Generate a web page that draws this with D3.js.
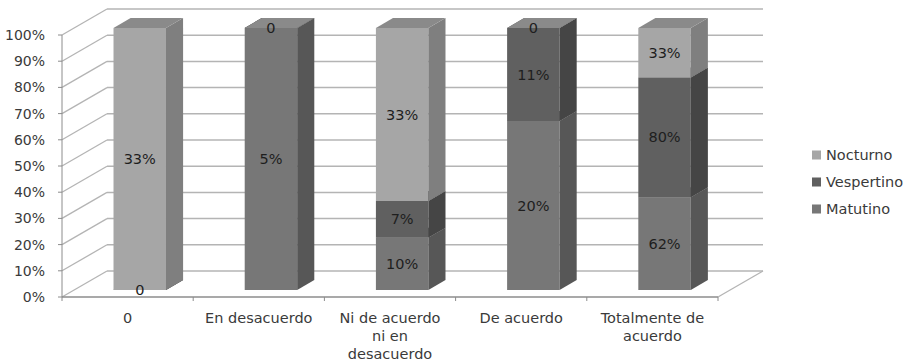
<!DOCTYPE html>
<html>
<head>
<meta charset="utf-8">
<script src="https://cdn.jsdelivr.net/npm/d3@7"></script>
<style>
  body { margin: 0; background: white; }
  text { font-family: "DejaVu Sans", sans-serif; }
</style>
</head>
<body>
<div id="canvas"></div>
<script>
"use strict"

// DATA
let categories = ["0", "En desacuerdo", "Ni de acuerdo ni en desacuerdo", "De acuerdo", "Totalmente de acuerdo"];
let categoryLines = [["0"], ["En desacuerdo"], ["Ni de acuerdo", "ni en", "desacuerdo"], ["De acuerdo"], ["Totalmente de", "acuerdo"]];
let seriesNames = ["Matutino", "Vespertino", "Nocturno"]; // bottom to top
let matutino = [0, 5, 10, 20, 62];
let vespertino = [null, null, 7, 11, 80];
let nocturno = [33, 0, 33, 0, 33];
let yTicks = [0, 0.1, 0.2, 0.3, 0.4, 0.5, 0.6, 0.7, 0.8, 0.9, 1];

/* Configuration variables: drawing */
let svgWidth = 911;
let svgHeight = 361;

let plotLeft = 62;
let plotRight = 718;
let plotBottom = 297;
let plotTop = 35;

let depthX = 45; // 3d offset of the back wall
let depthY = 26;
let barFront = 0.27; // depth position of bar faces
let barBack = 0.65;

let faceColors = {
  Matutino:   { front: "#777777", side: "#575757", top: "#6a6a6a" },
  Vespertino: { front: "#606060", side: "#454545", top: "#555555" },
  Nocturno:   { front: "#a6a6a6", side: "#7f7f7f", top: "#8a8a8a" }
};

let svg = d3.select("#canvas")
  .append("svg")
  .attr("width", svgWidth)
  .attr("height", svgHeight);

// project a front-plane point back by depth z (0..1)
function proj(x, y, z) {
  return [x + depthX * z, y - depthY * z];
}

function poly(points) {
  return "M" + points.map(function (p) { return p[0] + "," + p[1]; }).join("L") + "Z";
}

// SCALES
let xScale = d3.scaleBand()
  .domain(categories)
  .range([plotLeft, plotRight]);

let yScale = d3.scaleLinear()
  .domain([0, 1])
  .range([plotBottom, plotTop]);

// STACK
let table = categories.map(function (c, i) {
  return {
    category: c,
    Matutino: matutino[i],
    Vespertino: vespertino[i],
    Nocturno: nocturno[i]
  };
});

let stacked = d3.stack()
  .keys(seriesNames)
  .value(function (d, key) { return d[key] == null ? 0 : d[key]; })
  .offset(d3.stackOffsetExpand)(table);

// WALLS AND GRIDLINES
let gridColor = "#b4b4b4";

yTicks.forEach(function (t) {
  let y = yScale(t);
  let back = proj(plotLeft, y, 1);
  let backRight = proj(plotRight, y, 1);
  svg.append("line")
    .attr("x1", plotLeft).attr("y1", y)
    .attr("x2", back[0]).attr("y2", back[1])
    .attr("stroke", gridColor).attr("stroke-width", 1.3);
  svg.append("line")
    .attr("x1", back[0]).attr("y1", back[1])
    .attr("x2", backRight[0]).attr("y2", backRight[1])
    .attr("stroke", gridColor).attr("stroke-width", 1.5);
});

// floor right edge
let floorBackRight = proj(plotRight, plotBottom, 1);
svg.append("line")
  .attr("x1", plotRight).attr("y1", plotBottom)
  .attr("x2", floorBackRight[0]).attr("y2", floorBackRight[1])
  .attr("stroke", gridColor).attr("stroke-width", 1.3);

// AXIS LINES
let axisColor = "#8c8c8c";

svg.append("line")
  .attr("x1", plotLeft).attr("y1", plotTop)
  .attr("x2", plotLeft).attr("y2", plotBottom)
  .attr("stroke", axisColor);

svg.append("line")
  .attr("x1", plotLeft).attr("y1", plotBottom)
  .attr("x2", plotRight).attr("y2", plotBottom)
  .attr("stroke", axisColor).attr("stroke-width", 1.3);

yTicks.forEach(function (t) {
  svg.append("line")
    .attr("x1", plotLeft - 4).attr("y1", yScale(t))
    .attr("x2", plotLeft).attr("y2", yScale(t))
    .attr("stroke", axisColor);

  svg.append("text")
    .attr("x", 45)
    .attr("y", yScale(t))
    .attr("dy", "0.35em")
    .style("text-anchor", "end")
    .style("font-size", "14px")
    .attr("fill", "#3a3a3a")
    .text(Math.round(t * 100) + "%");
});

let boundaries = categories.map(function (c) { return xScale(c); }).concat([plotRight]);
boundaries.forEach(function (bx) {
  svg.append("line")
    .attr("x1", bx).attr("y1", plotBottom)
    .attr("x2", bx).attr("y2", plotBottom + 4)
    .attr("stroke", axisColor);
});

// CATEGORY LABELS
categories.forEach(function (c, i) {
  let label = svg.append("text")
    .attr("x", xScale(c) + xScale.bandwidth() / 2)
    .attr("y", 323)
    .style("text-anchor", "middle")
    .style("font-size", "14.5px")
    .attr("fill", "#3a3a3a");
  categoryLines[i].forEach(function (line, j) {
    label.append("tspan")
      .attr("x", xScale(c) + xScale.bandwidth() / 2)
      .attr("dy", j == 0 ? 0 : 18)
      .text(line);
  });
});

// BARS
let barWidth = xScale.bandwidth() * 0.4;

stacked.forEach(function (layer) {
  let key = layer.key;
  let col = faceColors[key];
  layer.forEach(function (seg, i) {
    let cx = xScale(categories[i]) + xScale.bandwidth() / 2;
    let xl = cx - barWidth / 2;
    let xr = cx + barWidth / 2;
    let y0 = yScale(seg[0]);
    let y1 = yScale(seg[1]);

    let g = svg.append("g");
    // front face
    g.append("path")
      .attr("d", poly([proj(xl, y0, barFront), proj(xr, y0, barFront), proj(xr, y1, barFront), proj(xl, y1, barFront)]))
      .attr("fill", col.front);
    // right side face
    g.append("path")
      .attr("d", poly([proj(xr, y0, barFront), proj(xr, y0, barBack), proj(xr, y1, barBack), proj(xr, y1, barFront)]))
      .attr("fill", col.side);
    // top face
    g.append("path")
      .attr("d", poly([proj(xl, y1, barFront), proj(xr, y1, barFront), proj(xr, y1, barBack), proj(xl, y1, barBack)]))
      .attr("fill", col.top);
  });
});

// DATA LABELS
stacked.forEach(function (layer) {
  layer.forEach(function (seg, i) {
    let v = seg.data[layer.key];
    if (v == null) return;
    let cx = xScale(categories[i]) + xScale.bandwidth() / 2;
    let p = proj(cx, yScale((seg[0] + seg[1]) / 2), barFront);
    svg.append("text")
      .attr("x", p[0])
      .attr("y", p[1])
      .attr("dy", "0.35em")
      .style("text-anchor", "middle")
      .style("font-size", "14.5px")
      .attr("fill", "#1e1e1e")
      .text(v == 0 ? "0" : v + "%");
  });
});

// LEGEND
let legendOrder = ["Nocturno", "Vespertino", "Matutino"];
legendOrder.forEach(function (name, i) {
  let cy = 155 + i * 27;
  svg.append("rect")
    .attr("x", 812)
    .attr("y", cy - 4.5)
    .attr("width", 9)
    .attr("height", 9)
    .attr("fill", faceColors[name].front);
  svg.append("text")
    .attr("x", 826)
    .attr("y", cy)
    .attr("dy", "0.35em")
    .style("font-size", "14.5px")
    .attr("fill", "#3a3a3a")
    .text(name);
});
</script>
</body>
</html>
